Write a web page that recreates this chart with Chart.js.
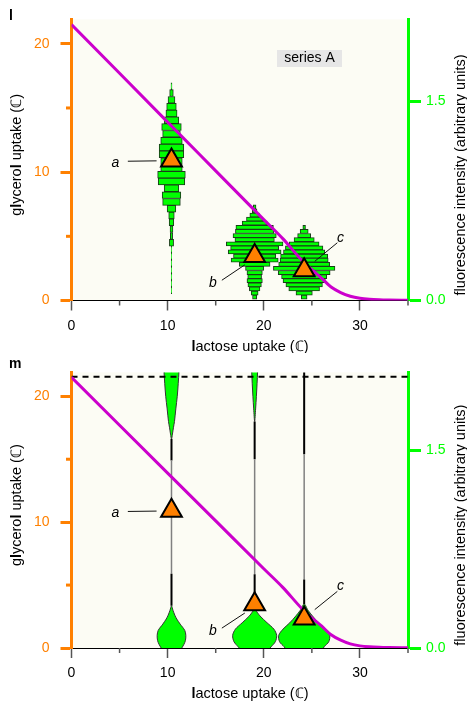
<!DOCTYPE html>
<html>
<head>
<meta charset="utf-8">
<script src="https://cdn.jsdelivr.net/npm/chart.js@4.4.1/dist/chart.umd.min.js"></script>
<style>
  html, body { margin: 0; padding: 0; background: #fff; }
  .panel { width: 467px; height: 353px; }
  canvas { display: block; }
</style>
</head>
<body>
<div class="panel"><canvas id="panelL" width="467" height="353"></canvas></div>
<div class="panel"><canvas id="panelM" width="467" height="353"></canvas></div>

<script>
  // ---- data ----
  const xTicks = [0, 10, 20, 30];
  const xMinorTicks = [5, 15, 25, 35];
  const yTicks = [0, 10, 20];
  const yMinorTicks = [5, 15];
  const fluorTicks = [0, 1.5];

  // the three strains, with their median markers
  const groupNames = ["a", "b", "c"];
  const groupX = [10.4, 19.05, 24.2];
  const groupY = [10.9, 3.47, 2.35];

  // letter labels and their leader lines
  const labelX = [4.56, 14.7, 27.97];
  const labelY = [10.4, 1.07, 4.57];
  const leaderFromX = [5.86, 15.64, 27.65];
  const leaderFromY = [10.85, 1.58, 4.5];
  const leaderToX = [8.85, 18.03, 25.3];
  const leaderToY = [10.88, 2.78, 3.05];

  // growth boundary (magenta)
  const uptakeX = [0, 5, 10, 15, 20, 22, 24, 25, 26, 27, 28, 29, 30, 31, 32, 33, 35];
  const uptakeY = [21.5, 17.7, 13.9, 10.1, 6.3, 4.8, 3.1, 2.4, 1.75, 1.05, 0.62, 0.33, 0.17, 0.09, 0.05, 0.03, 0.01];
  const ceilingY = 21.55;

  // panel l: histograms (bin centre on glycerol axis, half spread on lactose axis)
  const histA_y = [16.69, 16.16, 15.63, 15.10, 14.57, 14.04, 13.51, 12.98, 12.45, 11.92, 11.39, 10.86, 10.33, 9.80, 9.27, 8.74, 8.21, 7.68, 7.15, 6.62, 6.09, 5.56, 5.03, 4.50, 3.97, 3.44, 2.91, 2.38, 1.85, 1.32, 0.79];
  const histA_half = [0.05, 0.19, 0.36, 0.5, 0.58, 0.76, 1.02, 0.92, 1.12, 1.28, 1.28, 1.12, 1.12, 1.44, 1.38, 0.76, 0.97, 0.92, 0.45, 0.29, 0.24, 0.15, 0.12, 0.22, 0.03, 0.02, 0.03, 0.02, 0.03, 0.02, 0.02];
  const histB_y = [7.30, 6.98, 6.66, 6.34, 6.02, 5.70, 5.38, 5.06, 4.74, 4.42, 4.10, 3.78, 3.46, 3.14, 2.82, 2.50, 2.18, 1.86, 1.54, 1.22, 0.90, 0.58, 0.26];
  const histB_half = [0.14, 0.24, 0.5, 0.85, 1.3, 1.95, 2.0, 2.25, 2.05, 2.95, 2.5, 2.75, 2.2, 2.45, 1.6, 0.95, 0.8, 0.72, 0.8, 0.7, 0.55, 0.36, 0.22];
  const histC_y = [5.70, 5.38, 5.06, 4.74, 4.42, 4.10, 3.78, 3.46, 3.14, 2.82, 2.50, 2.18, 1.86, 1.54, 1.22, 0.90, 0.58, 0.26];
  const histC_half = [0.14, 0.42, 0.68, 1.05, 1.55, 1.95, 2.15, 2.45, 2.5, 2.65, 3.2, 2.7, 2.35, 2.2, 1.9, 1.6, 0.85, 0.3];

  // panel m: violins (low lobes from y=0 up, high lobes from top down to tip)
  const violinLowA_y = [0, 0.3, 0.6, 1.0, 1.4, 1.9, 2.3, 2.6, 3.0, 3.35];
  const violinLowA_half = [1.07, 1.3, 1.45, 1.49, 1.38, 0.9, 0.55, 0.35, 0.15, 0];
  const violinLowB_y = [0, 0.1, 0.5, 1.0, 1.5, 2.0, 2.55, 2.85, 3.1];
  const violinLowB_half = [1.6, 1.72, 2.15, 2.29, 2.0, 1.3, 0.55, 0.25, 0];
  const violinLowC_y = [0, 0.1, 0.5, 1.0, 1.5, 2.0, 2.55, 3.0, 3.5];
  const violinLowC_half = [2.0, 2.08, 2.56, 2.65, 2.2, 1.5, 0.86, 0.4, 0];
  const violinHighA_y = [23, 22, 21, 20, 19, 18, 17.5, 17.0, 16.6];
  const violinHighA_half = [0.85, 0.78, 0.7, 0.6, 0.45, 0.31, 0.2, 0.1, 0];
  const violinHighB_y = [23, 22, 21, 20, 19, 18.0];
  const violinHighB_half = [0.36, 0.31, 0.25, 0.18, 0.1, 0];

  // whisker segments: black low part, grey middle part, black high part
  const whiskLow = [3.35, 3.1, 3.5];
  const whiskQ1 = [5.9, 5.86, 5.45];
  const whiskQ3 = [14.9, 15.0, 15.4];
  const whiskHigh = [16.6, 18.0, 23];

  // ---- styling ----
  const FONT = "'Liberation Sans', Arial, sans-serif";
  const ORANGE = "#ff8000";
  const GREEN = "#00ff00";
  const MAGENTA = "#cc00cc";

  function lineSet(points, color, width, order, extra) {
    return Object.assign(
      {
        type: "line",
        data: points,
        borderColor: color,
        borderWidth: width,
        pointRadius: 0,
        fill: false,
        tension: 0,
        order: order,
        xAxisID: "x",
        yAxisID: "y",
      },
      extra || {}
    );
  }

  function histSet(cx, ys, halves, thick) {
    return {
      type: "bar",
      indexAxis: "y",
      grouped: false,
      data: ys.map((y, i) => ({ y: y, x: [cx - halves[i], cx + halves[i]] })),
      backgroundColor: GREEN,
      borderColor: "#1a3d1a",
      borderWidth: 1,
      borderSkipped: false,
      barThickness: thick,
      order: 3,
      xAxisID: "x",
      yAxisID: "y",
    };
  }

  function violinSet(cx, ys, halves) {
    const left = ys.map((y, i) => ({ x: cx - halves[i], y: y }));
    const right = ys.slice(0, -1).map((y, i) => ({ x: cx + halves[i], y: y })).reverse();
    return lineSet(left.concat(right), "#333", 1, 5, {
      backgroundColor: GREEN,
      fill: "shape",
      tension: 0.3,
    });
  }

  function commonSets() {
    const sets = [];
    sets.push({
      type: "scatter",
      data: groupX.map((x, i) => ({ x: x, y: groupY[i] })),
      pointStyle: "triangle",
      pointRadius: 12,
      backgroundColor: ORANGE,
      borderColor: "#000",
      borderWidth: 2,
      order: 0,
      xAxisID: "x",
      yAxisID: "y",
    });
    groupNames.forEach((n, i) => {
      sets.push(
        lineSet(
          [
            { x: leaderFromX[i], y: leaderFromY[i] },
            { x: leaderToX[i], y: leaderToY[i] },
          ],
          "#111",
          1,
          1
        )
      );
    });
    sets.push(
      lineSet(
        uptakeX.map((x, i) => ({ x: x, y: uptakeY[i] })),
        MAGENTA,
        3,
        2,
        { cubicInterpolationMode: "monotone" }
      )
    );
    return sets;
  }

  function drawRich(ctx, parts, cx, cy, angle) {
    ctx.save();
    ctx.translate(cx, cy);
    ctx.rotate(angle);
    ctx.textBaseline = "middle";
    ctx.textAlign = "left";
    ctx.fillStyle = "#000";
    let total = 0;
    const widths = parts.map((p) => {
      ctx.font = (p[1] ? "bold " : "") + "14.5px " + FONT;
      const w = ctx.measureText(p[0]).width;
      total += w;
      return w;
    });
    let x = -total / 2;
    parts.forEach((p, i) => {
      ctx.font = (p[1] ? "bold " : "") + "14.5px " + FONT;
      ctx.fillText(p[0], x, 0);
      x += widths[i];
    });
    ctx.restore();
  }

  const panelDecor = {
    id: "panelDecor",
    beforeDraw(chart) {
      const { ctx, chartArea: a } = chart;
      ctx.save();
      ctx.fillStyle = "#fcfcf4";
      ctx.fillRect(a.left, a.top, a.right - a.left, a.bottom - a.top);
      ctx.restore();
    },
    afterDraw(chart, args, opts) {
      const { ctx, chartArea: a, scales } = chart;
      const sx = scales.x;
      const sy = scales.y;
      ctx.save();

      // minor ticks
      ctx.strokeStyle = ORANGE;
      ctx.lineWidth = 3;
      yMinorTicks.forEach((v) => {
        const py = sy.getPixelForValue(v);
        ctx.beginPath();
        ctx.moveTo(a.left - 5.5, py);
        ctx.lineTo(a.left, py);
        ctx.stroke();
      });
      ctx.strokeStyle = "#555";
      ctx.lineWidth = 1.5;
      xMinorTicks.forEach((v) => {
        const px = sx.getPixelForValue(v);
        ctx.beginPath();
        ctx.moveTo(px, a.bottom);
        ctx.lineTo(px, a.bottom + 5);
        ctx.stroke();
      });

      // strain letters
      ctx.fillStyle = "#000";
      ctx.font = "italic 14px " + FONT;
      ctx.textAlign = "center";
      ctx.textBaseline = "alphabetic";
      groupNames.forEach((n, i) => {
        ctx.fillText(n, sx.getPixelForValue(labelX[i]), sy.getPixelForValue(labelY[i]));
      });

      // panel letter
      ctx.font = "bold 14px " + FONT;
      ctx.textAlign = "left";
      ctx.fillText(opts.letter, 9, opts.letterY);

      // series tag
      if (opts.tag) {
        ctx.fillStyle = "#e6e6e6";
        ctx.fillRect(277, 50, 65, 17);
        ctx.fillStyle = "#000";
        ctx.font = "14px " + FONT;
        ctx.textAlign = "center";
        ctx.textBaseline = "middle";
        ctx.fillText(opts.tag, 309.5, 58.5);
      }

      // axis titles
      const midY = (a.top + a.bottom) / 2;
      drawRich(ctx, [["g", false], ["l", true], ["ycero", false], ["l", true], [" uptake (\u2102)", false]], 17, midY - 5, -Math.PI / 2);
      drawRich(ctx, [["l", true], ["actose uptake (\u2102)", false]], 250, a.bottom + 46, 0);
      drawRich(ctx, [["fluorescence intensity (arbitrary units)", false]], 461, midY + 15, -Math.PI / 2);

      ctx.restore();
    },
  };

  function makeScales(fluorMax, xAxisHeight) {
    const tickFont = { family: FONT, size: 14 };
    return {
      x: {
        type: "linear",
        min: 0,
        max: 35,
        offset: false,
        afterBuildTicks: (s) => { s.ticks = xTicks.map((v) => ({ value: v })); },
        afterFit: (s) => { s.height = xAxisHeight; },
        border: { color: "#000", width: 1 },
        grid: { offset: false, drawOnChartArea: false, tickLength: 10, tickWidth: 1.5, tickColor: "#555" },
        ticks: { color: "#000", font: tickFont, padding: 7, maxRotation: 0, autoSkip: false },
      },
      y: {
        type: "linear",
        position: "left",
        min: 0,
        max: 21.9,
        offset: false,
        afterBuildTicks: (s) => { s.ticks = yTicks.map((v) => ({ value: v })); },
        afterFit: (s) => { s.width = 71.5; },
        border: { color: ORANGE, width: 3 },
        grid: { offset: false, drawOnChartArea: false, tickLength: 11, tickWidth: 3, tickColor: ORANGE },
        ticks: { color: ORANGE, font: tickFont, padding: 11, autoSkip: false },
      },
      y2: {
        type: "linear",
        position: "right",
        min: 0,
        max: fluorMax,
        offset: false,
        afterBuildTicks: (s) => { s.ticks = fluorTicks.map((v) => ({ value: v })); },
        afterFit: (s) => { s.width = 59; },
        border: { color: GREEN, width: 3 },
        grid: { offset: false, drawOnChartArea: false, tickLength: 13, tickWidth: 3, tickColor: GREEN },
        ticks: { color: GREEN, font: tickFont, padding: 5, autoSkip: false, callback: (v) => v.toFixed(1) },
      },
    };
  }

  function makeOptions(fluorMax, xAxisHeight, padTop, decor) {
    return {
      responsive: false,
      animation: false,
      devicePixelRatio: 1,
      events: [],
      layout: { padding: { top: padTop, left: 0, right: 0, bottom: 0 } },
      plugins: { legend: { display: false }, tooltip: { enabled: false }, panelDecor: decor },
      scales: makeScales(fluorMax, xAxisHeight),
    };
  }

  // ---- panel l ----
  const topSets = commonSets();
  topSets.push(histSet(groupX[0], histA_y, histA_half, 6.8));
  topSets.push(histSet(groupX[1], histB_y, histB_half, 4.1));
  topSets.push(histSet(groupX[2], histC_y, histC_half, 4.1));

  new Chart(document.getElementById("panelL"), {
    type: "scatter",
    data: { datasets: topSets },
    options: makeOptions(2.12, 52.5, 19.3, { letter: "l", letterY: 20, tag: "series A" }),
    plugins: [panelDecor],
  });

  // ---- panel m ----
  const bottomSets = commonSets();
  bottomSets.push(
    lineSet([{ x: 0, y: ceilingY }, { x: 35, y: ceilingY }], "#000", 2, 3, { borderDash: [6, 5] })
  );
  groupX.forEach((cx, i) => {
    bottomSets.push(lineSet([{ x: cx, y: whiskLow[i] }, { x: cx, y: whiskQ1[i] }], "#000", 2, 4));
    bottomSets.push(lineSet([{ x: cx, y: whiskQ1[i] }, { x: cx, y: whiskQ3[i] }], "#808080", 1.5, 4));
    bottomSets.push(lineSet([{ x: cx, y: whiskQ3[i] }, { x: cx, y: whiskHigh[i] }], "#000", 2, 4));
  });
  bottomSets.push(violinSet(groupX[0], violinLowA_y, violinLowA_half));
  bottomSets.push(violinSet(groupX[1], violinLowB_y, violinLowB_half));
  bottomSets.push(violinSet(groupX[2], violinLowC_y, violinLowC_half));
  bottomSets.push(violinSet(groupX[0], violinHighA_y, violinHighA_half));
  bottomSets.push(violinSet(groupX[1], violinHighB_y, violinHighB_half));

  new Chart(document.getElementById("panelM"), {
    type: "scatter",
    data: { datasets: bottomSets },
    options: makeOptions(2.09, 58, 13, { letter: "m", letterY: 15, tag: null }),
    plugins: [panelDecor],
  });
</script>
</body>
</html>
